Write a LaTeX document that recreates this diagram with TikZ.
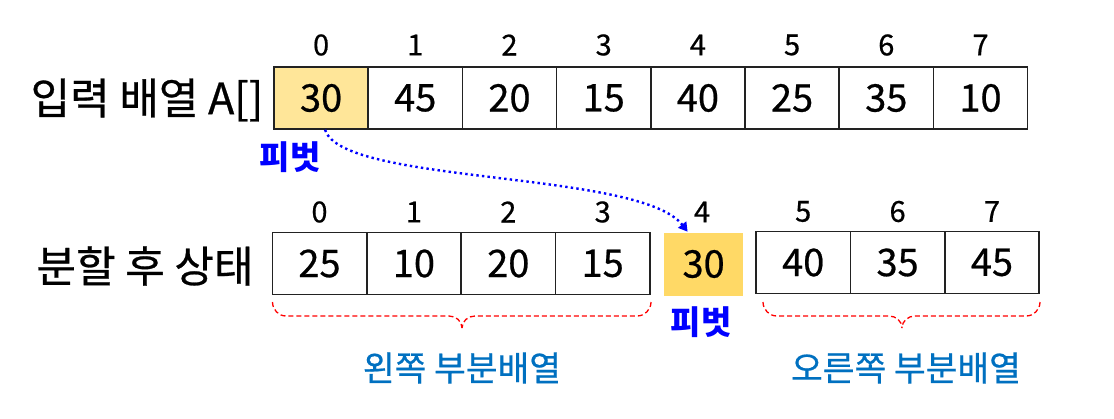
\documentclass[tikz,border=0pt]{standalone}
\usepackage{fontspec}
\setmainfont{Noto Sans CJK KR}
\newfontfamily\medfont{Noto Sans CJK KR}[FakeBold=0.6]
\usetikzlibrary{arrows.meta}
\definecolor{pivlight}{HTML}{FFE699}
\definecolor{pivdark}{HTML}{FFD966}
\definecolor{subblue}{HTML}{0070C0}
\definecolor{cellline}{HTML}{222222}
\tikzset{
  cell/.style={draw=cellline, line width=1.6pt, minimum width=94.3pt, minimum height=62pt, inner sep=0pt, font=\medfont\fontsize{38}{42}\selectfont},
  idx/.style={inner sep=0pt, font=\medfont\fontsize{29}{32}\selectfont},
  rowlabel/.style={inner sep=0pt, font=\medfont\fontsize{43}{46}\selectfont},
  pivlabel/.style={inner sep=0pt, text=blue, font=\fontsize{33}{36}\selectfont\bfseries},
  sublabel/.style={inner sep=0pt, text=subblue, font=\medfont\fontsize{34.5}{38}\selectfont},
  bracepath/.style={draw=red, dashed, line width=1.3pt, dash pattern=on 5pt off 3pt}
}
\begin{document}
\begin{tikzpicture}[x=1pt,y=-1pt]
\useasboundingbox (0,0) rectangle (1114,418);
% top row
\node[rowlabel] (lab1) at (147,100) {입력 배열 A[]};
\foreach \v [count=\i from 0] in {30,45,20,15,40,25,35,10} {
  \node[cell] (t\i) at ({274+94.2*(\i+0.5)},98) {\v};
  \node[idx] (ti\i) at ({274+94.2*(\i+0.5)},45) {\i};
}
\fill[pivlight] ([shift={(0.8pt,-0.8pt)}]t0.north west) rectangle ([shift={(-0.8pt,0.8pt)}]t0.south east);
\node[cell] (t0b) at (t0) {30};
\node[pivlabel] (pv1) at (290,157) {피벗};
% bottom row
\node[rowlabel] (lab2) at (145,266) {분할 후 상태};
\foreach \v [count=\i from 0] in {25,10,20,15} {
  \node[cell] (b\i) at ({272.3+94.4*(\i+0.5)},263.5) {\v};
  \node[idx] (bi\i) at ({272.3+94.4*(\i+0.5)},212) {\i};
}
\node[cell, draw=none, fill=pivdark, minimum width=79pt, minimum height=63pt] (piv) at (703.6,264) {30};
\node[idx] (bi4) at (702,212) {4};
\foreach \v [count=\j from 0] in {40,35,45} {
  \pgfmathtruncatemacro{\k}{\j+5}
  \node[cell] (r\j) at ({756+94.4*(\j+0.5)},262.5) {\v};
  \node[idx] (ri\j) at ({756+94.4*(\j+0.5)},211.5) {\k};
}
\node[pivlabel] (pv2) at (701,322) {피벗};
% arrow
\coordinate (arrstart) at ([xshift=4pt]t0.south);
\coordinate (arrend) at ([xshift=-16pt]piv.north);
\draw[blue, line width=2.4pt, dash pattern=on 2.4pt off 3.2pt, -{Triangle[length=9pt,width=10pt]}]
  (arrstart) .. controls (342,185) and (640,170) .. (arrend);
% braces
\coordinate (lb0) at (272.5,302);
\coordinate (lb1) at (651,302);
\coordinate (rb0) at (763,302);
\coordinate (rb1) at (1040,302);
\draw[bracepath] (lb0) to[out=-90,in=180] (286,316) -- (449,316) to[out=0,in=90] (462,328);
\draw[bracepath] (lb1) to[out=-90,in=0] (637,316) -- (475,316) to[out=180,in=90] (462,328);
\draw[bracepath] (rb0) to[out=-90,in=180] (777,316) -- (889,316) to[out=0,in=90] (902,328);
\draw[bracepath] (rb1) to[out=-90,in=0] (1026,316) -- (915,316) to[out=180,in=90] (902,328);
\node[sublabel] (sl) at (462,368) {왼쪽 부분배열};
\node[sublabel] (sr) at (906,368) {오른쪽 부분배열};
\end{tikzpicture}
\end{document}
